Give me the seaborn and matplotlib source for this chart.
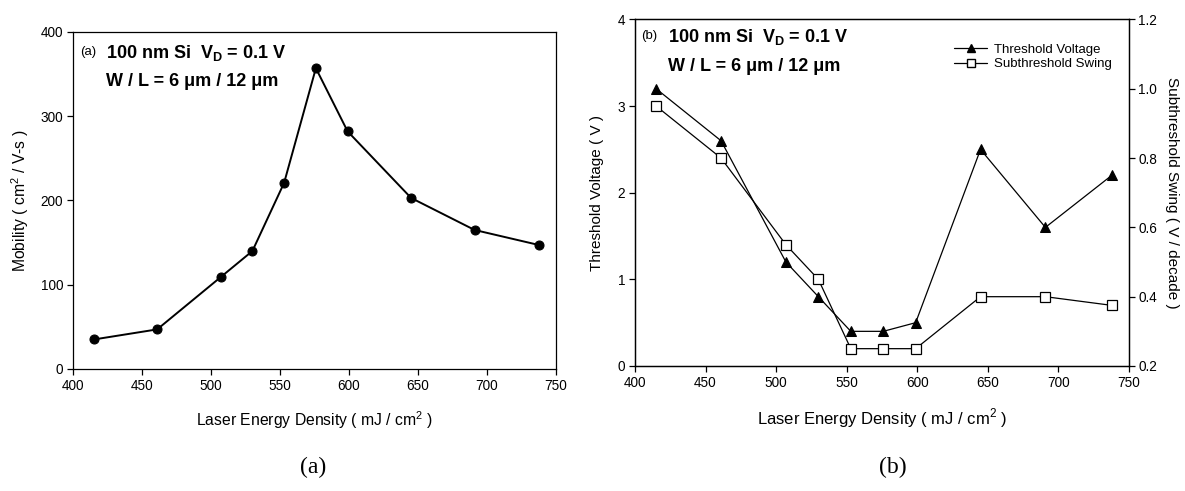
import numpy as np
import pandas as pd
import matplotlib
matplotlib.use("Agg")
import matplotlib.pyplot as plt
import seaborn as sns
from matplotlib.lines import Line2D

sns.set_theme(style="white")
plt.rcParams['font.family'] = ['Liberation Sans', 'DejaVu Sans']
plt.rcParams['mathtext.fontset'] = 'custom'
plt.rcParams['mathtext.rm'] = 'Liberation Sans'
plt.rcParams['mathtext.bf'] = 'Liberation Sans:bold'
for k in ['text.color', 'axes.labelcolor', 'xtick.color', 'ytick.color', 'axes.edgecolor']:
    plt.rcParams[k] = 'black'

# ---- data ----
energy = [415, 461, 507, 530, 553, 576, 599, 645, 691, 738]
mobility = [35, 47, 109, 140, 221, 357, 282, 203, 165, 147]
threshold_voltage = [3.2, 2.6, 1.2, 0.8, 0.4, 0.4, 0.5, 2.5, 1.6, 2.2]
subthreshold_swing = [0.95, 0.80, 0.55, 0.45, 0.25, 0.25, 0.25, 0.40, 0.40, 0.375]

x_ticks = [400, 450, 500, 550, 600, 650, 700, 750]
mob_ticks = [0, 100, 200, 300, 400]
vth_ticks = [0, 1, 2, 3, 4]
ss_ticks = [0.2, 0.4, 0.6, 0.8, 1.0, 1.2]

df = pd.DataFrame({"energy": energy, "mobility": mobility,
                   "vth": threshold_voltage, "ss": subthreshold_swing})

fig = plt.figure(figsize=(11.85, 4.91), dpi=100)
fig.patch.set_facecolor("white")

def style_axes(ax, right=False):
    for s in ax.spines.values():
        s.set_color("black")
        s.set_linewidth(0.9)
    ax.tick_params(axis="both", direction="out", length=4, width=0.9,
                   labelsize=9.8, colors="black", pad=3)
    ax.tick_params(axis="x", bottom=True, top=False)
    ax.tick_params(axis="y", left=not right, right=right)
    ax.set_facecolor("white")
    ax.grid(False)

# ---- panel (a) ----
axa = fig.add_axes([0.0616, 0.2485, 0.4076, 0.6864])
sns.lineplot(data=df, x="energy", y="mobility", ax=axa, color="black",
             marker="o", markersize=6.5, markeredgecolor="black",
             linewidth=1.4)
axa.set_xlim(400, 750)
axa.set_ylim(0, 400)
axa.set_xticks(x_ticks)
axa.set_yticks(mob_ticks)
style_axes(axa)
axa.set_xlabel("Laser Energy Density ( mJ / cm$^2$ )", fontsize=11.3, labelpad=12)
axa.set_ylabel("Mobility ( cm$^2$ / V-s )", fontsize=11.3, labelpad=7)
axa.text(0.014, 0.94, "(a)", transform=axa.transAxes, fontsize=9.5, va="center", ha="left")
axa.text(0.069, 0.938, "100 nm Si  V$_\\mathbf{D}$ = 0.1 V", transform=axa.transAxes,
         fontsize=13, fontweight="bold", va="center", ha="left")
axa.text(0.069, 0.852, "W / L = 6 \u03bcm / 12 \u03bcm", transform=axa.transAxes,
         fontsize=13, fontweight="bold", va="center", ha="left")

# ---- panel (b) ----
axb = fig.add_axes([0.5359, 0.2546, 0.4165, 0.7057])
sns.lineplot(data=df, x="energy", y="vth", ax=axb, color="black",
             marker="^", markersize=6.5, markeredgecolor="black",
             linewidth=0.9)
axb.set_xlim(400, 750)
axb.set_ylim(0, 4)
axb.set_xticks(x_ticks)
axb.set_yticks(vth_ticks)
style_axes(axb)
axb.set_xlabel("Laser Energy Density ( mJ / cm$^2$ )", fontsize=12, labelpad=12)
axb.set_ylabel("Threshold Voltage ( V )", fontsize=11, labelpad=10)

axb2 = axb.twinx()
sns.lineplot(data=df, x="energy", y="ss", ax=axb2, color="black",
             marker="s", markersize=6.5, markerfacecolor="white",
             markeredgecolor="black", markeredgewidth=0.9, linewidth=0.9)
axb2.set_ylim(0.2, 1.2)
axb2.set_yticks(ss_ticks)
axb2.set_yticklabels([f"{t:.1f}" for t in ss_ticks])
style_axes(axb2, right=True)
axb2.set_ylabel("Subthreshold Swing ( V / decade )", fontsize=11,
                rotation=270, labelpad=16)

axb.text(0.012, 0.952, "(b)", transform=axb.transAxes, fontsize=9.5, va="center", ha="left")
axb.text(0.067, 0.949, "100 nm Si  V$_\\mathbf{D}$ = 0.1 V", transform=axb.transAxes,
         fontsize=13, fontweight="bold", va="center", ha="left")
axb.text(0.067, 0.863, "W / L = 6 \u03bcm / 12 \u03bcm", transform=axb.transAxes,
         fontsize=13, fontweight="bold", va="center", ha="left")

handles = [
    Line2D([], [], color="black", marker="^", markersize=6, linewidth=0.9,
           markerfacecolor="black"),
    Line2D([], [], color="black", marker="s", markersize=6, linewidth=0.9,
           markerfacecolor="white", markeredgecolor="black"),
]
axb2.legend(handles, ["Threshold Voltage", "Subthreshold Swing"],
            loc="upper right", bbox_to_anchor=(0.985, 0.958), frameon=False,
            fontsize=9.5, handlelength=2.5, handletextpad=0.5,
            labelspacing=0.2, borderpad=0.2)

# ---- panel captions ----
fig.text(313 / 1185, 1 - 467 / 491, "(a)", fontsize=17, family="Liberation Serif",
         ha="center", va="center")
fig.text(893 / 1185, 1 - 467 / 491, "(b)", fontsize=17, family="Liberation Serif",
         ha="center", va="center")

fig.savefig("out.png", dpi=100, facecolor="white")
